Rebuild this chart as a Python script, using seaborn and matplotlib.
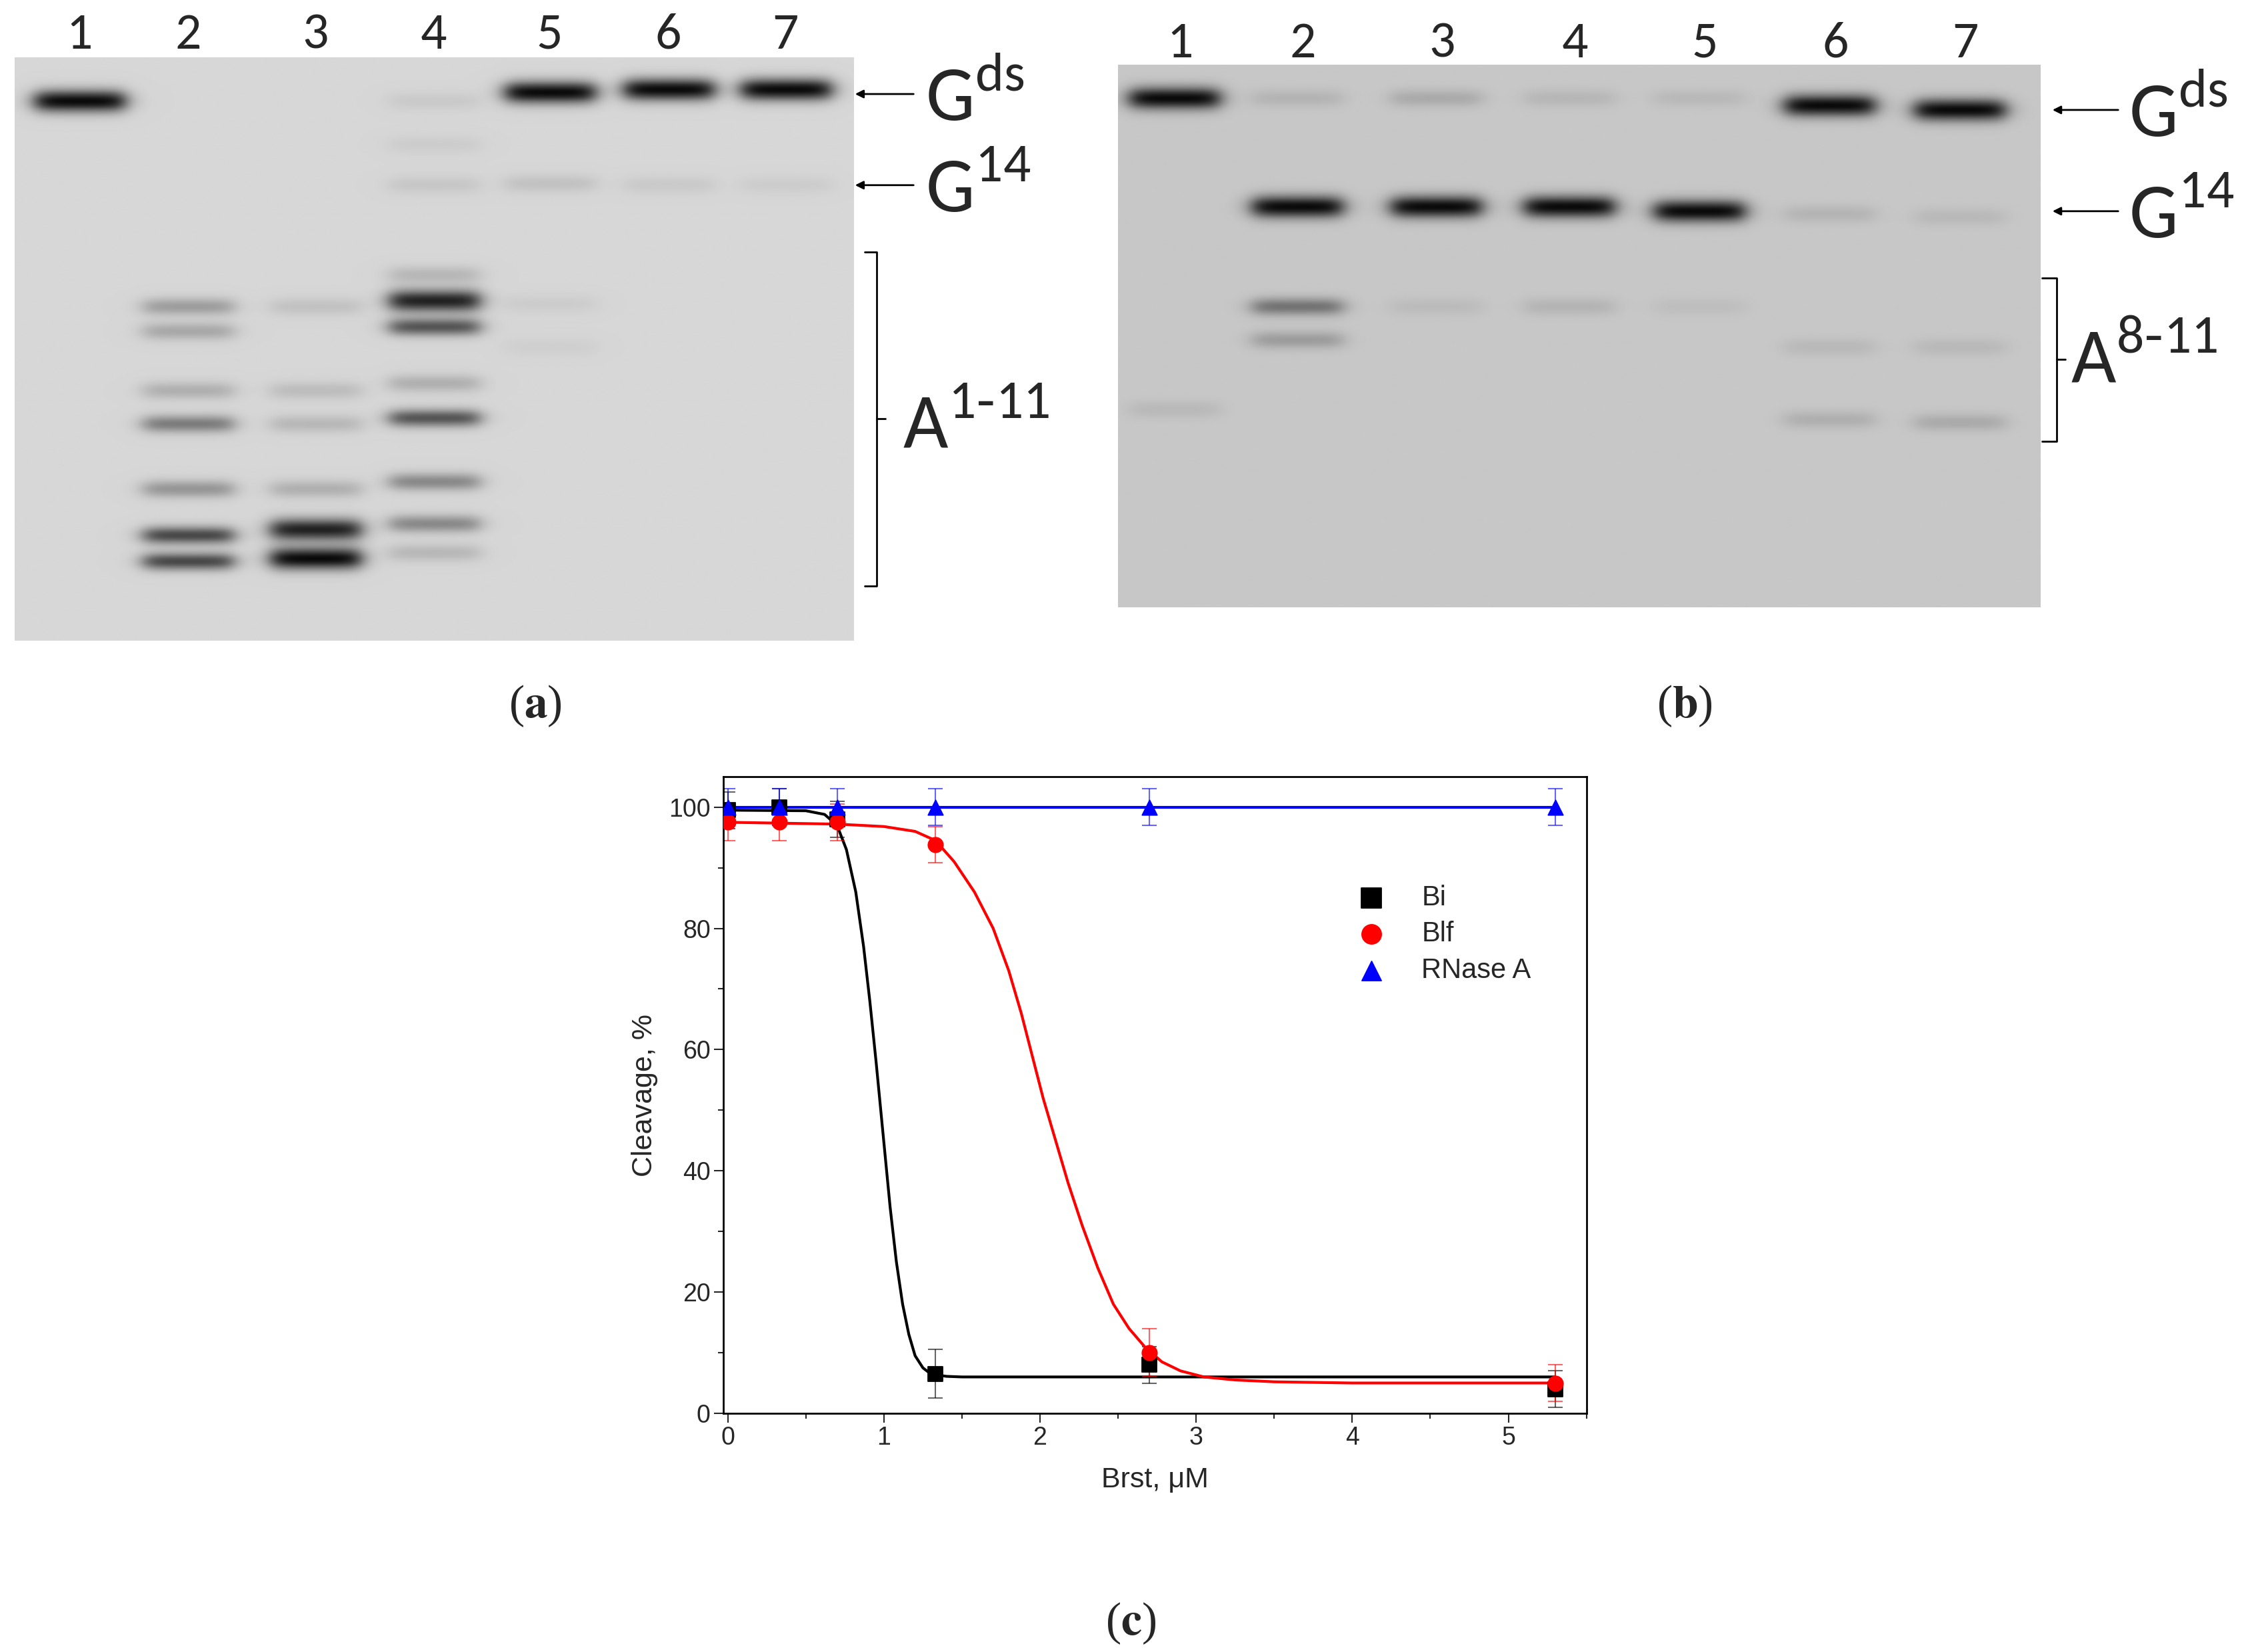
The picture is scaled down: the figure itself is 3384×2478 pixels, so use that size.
import numpy as np
import pandas as pd
import seaborn as sns
import matplotlib.pyplot as plt

sns.set_style('white')
plt.rcParams['font.family'] = ['Liberation Sans', 'DejaVu Sans']

# ---- chart data (panel c) ----
conc = [0, 0.33, 0.7, 1.33, 2.7, 5.3]
bi_vals = [99.5, 100, 98, 6.5, 8, 4]
bi_err = [3, 3, 3, 4, 3, 3]
blf_vals = [97.5, 97.5, 97.5, 93.8, 10, 5]
blf_err = [3, 3, 3, 3, 4, 3]
rnase_vals = [100, 100, 100, 100, 100, 100]
rnase_err = [3, 3, 3, 3, 3, 3]

# fitted curves
bi_fit_x = [0, 0.5, 0.62, 0.7, 0.76, 0.82, 0.87, 0.91, 0.95, 0.98, 1.01, 1.04, 1.08, 1.12,
            1.16, 1.2, 1.25, 1.3, 1.4, 1.5, 5.3]
bi_fit_y = [99.5, 99.4, 98.8, 97, 93, 86, 77, 68, 58, 50, 42, 34, 25, 18,
            13, 9.5, 7.5, 6.5, 6.1, 6, 6]
blf_fit_x = [0, 0.7, 1.0, 1.2, 1.33, 1.45, 1.58, 1.7, 1.8, 1.88, 1.95, 2.02, 2.1, 2.18, 2.27,
             2.37, 2.47, 2.57, 2.67, 2.78, 2.9, 3.05, 3.25, 3.5, 4, 5.3]
blf_fit_y = [97.5, 97.2, 96.8, 96, 94.5, 91, 86, 80, 73, 66, 59, 52, 45, 38, 31,
             24, 18, 14, 11, 8.5, 7, 6, 5.5, 5.2, 5, 5]

# ---- gel data: (lane, y position, darkness) ----
lanes_a = [55, 130, 218, 300, 380, 462, 543]
bands_a = [(1, 70, 0.85), (5, 64, 0.85), (6, 62, 0.85), (7, 62, 0.85),
           (5, 127, 0.08), (6, 128, 0.05), (7, 128, 0.04),
           (2, 212, 0.22), (2, 229, 0.18), (2, 270, 0.15), (2, 293, 0.35), (2, 338, 0.25),
           (2, 370, 0.55), (2, 388, 0.55),
           (3, 212, 0.08), (3, 270, 0.1), (3, 293, 0.12), (3, 338, 0.15), (3, 366, 0.7), (3, 386, 0.85),
           (4, 70, 0.05), (4, 100, 0.04), (4, 128, 0.06), (4, 190, 0.12), (4, 208, 0.7), (4, 226, 0.5),
           (4, 265, 0.15), (4, 289, 0.5), (4, 333, 0.3), (4, 362, 0.3), (4, 382, 0.12),
           (5, 210, 0.04), (5, 240, 0.03)]
lanes_b = [812, 897, 993, 1085, 1175, 1265, 1355]
bands_b = [(1, 68, 0.85), (2, 68, 0.08), (3, 68, 0.12), (4, 68, 0.07), (5, 68, 0.06),
           (6, 73, 0.85), (7, 76, 0.85),
           (2, 143, 0.85), (3, 143, 0.85), (4, 143, 0.85), (5, 146, 0.85),
           (6, 148, 0.08), (7, 150, 0.06),
           (2, 212, 0.35), (2, 235, 0.18), (3, 212, 0.05), (4, 212, 0.08), (5, 212, 0.04),
           (6, 240, 0.06), (6, 290, 0.1), (7, 240, 0.06), (7, 292, 0.12), (1, 283, 0.06)]


def gel_image(x0, x1, y0, y1, lanes, bands, bg):
    xs = np.arange(x0, x1, 0.5)
    ys = np.arange(y0, y1, 0.5)
    X, Y = np.meshgrid(xs, ys)
    img = np.full(X.shape, bg)
    for lane, yb, d in bands:
        cx = lanes[lane - 1]
        prof_x = 1 / (1 + np.exp((np.abs(X - cx) - 31) / 4))
        sy = 7.5 if d > 0.6 else 6
        prof_y = np.exp(-((Y - yb) / sy) ** 2)
        img -= min(1.2 * d, 0.95) * bg * prof_x * prof_y
    return np.clip(img, 0, 1)


fig = plt.figure(figsize=(33.84, 24.78), dpi=100)
W, H = 1560, 1142
ov = fig.add_axes([0, 0, 1, 1])
ov.set_xlim(0, W)
ov.set_ylim(H, 0)
ov.axis('off')

ga = gel_image(10, 590, 40, 443, lanes_a, bands_a, 0.84)
ov.imshow(ga, extent=(10, 590, 443, 40), cmap='gray', vmin=0, vmax=1, aspect='auto')
gb = gel_image(773, 1411, 45, 420, lanes_b, bands_b, 0.78)
ov.imshow(gb, extent=(773, 1411, 420, 45), cmap='gray', vmin=0, vmax=1, aspect='auto')

gel_font = ['Carlito', 'Lato', 'DejaVu Sans']
for i, x in enumerate(lanes_a):
    ov.text(x, 24, str(i + 1), ha='center', va='center', fontsize=56, family=gel_font)
for i, x in enumerate(lanes_b):
    ov.text(x + 4, 30, str(i + 1), ha='center', va='center', fontsize=56, family=gel_font)


def arrow(x0, x1, y):
    ov.annotate('', xy=(x0, y), xytext=(x1, y),
                arrowprops=dict(arrowstyle='-|>', color='black', lw=2, mutation_scale=18))


def bracket(x, y0, y1, w):
    ov.plot([x, x + w, x + w, x], [y0, y0, y1, y1], color='black', lw=2)
    ym = (y0 + y1) / 2
    ov.plot([x + w, x + w + 6], [ym, ym], color='black', lw=2)


lab = dict(fontsize=84, family=gel_font, va='center')
arrow(590, 633, 65)
ov.text(640, 68, r'G$^{\mathregular{ds}}$', **lab)
arrow(590, 633, 128)
ov.text(640, 131, r'G$^{\mathregular{14}}$', **lab)
bracket(598, 174, 405, 8)
ov.text(624, 295, r'A$^{\mathregular{1\text{-}11}}$', **lab)
arrow(1418, 1466, 76)
ov.text(1472, 79, r'G$^{\mathregular{ds}}$', **lab)
arrow(1418, 1466, 146)
ov.text(1472, 149, r'G$^{\mathregular{14}}$', **lab)
bracket(1412, 192, 305, 10)
ov.text(1432, 249, r'A$^{\mathregular{8\text{-}11}}$', **lab)

pl = dict(fontsize=50, family=['Liberation Serif'], ha='center', va='center')
for x, y, s in [(370, 488, 'a'), (1165, 488, 'b'), (782, 1122, 'c')]:
    ov.text(x, y, '(' + r'$\mathbf{' + s + '}$' + ')', math_fontfamily='stix', **pl)

# ---- panel c chart ----
ax = fig.add_axes([500 / W, 1 - 977 / H, 597 / W, 440 / H])
series = [('Bi', bi_vals, bi_err, 'black', 's', bi_fit_x, bi_fit_y),
          ('Blf', blf_vals, blf_err, 'red', 'o', blf_fit_x, blf_fit_y),
          ('RNase A', rnase_vals, rnase_err, 'blue', '^', conc, rnase_vals)]
for name, vals, err, col, mk, fx, fy in series:
    ax.errorbar(conc, vals, yerr=err, fmt='none', ecolor=col, alpha=0.6, elinewidth=1.5,
                capsize=8, capthick=1.5)
    sns.lineplot(x=fx, y=fy, color=col, lw=3, sort=False, ax=ax)
    sns.scatterplot(x=conc, y=vals, color=col, marker=mk, s=260, edgecolor=col,
                    label=name, ax=ax, zorder=5)

ax.set_xlim(-0.03, 5.5)
ax.set_ylim(0, 105)
ax.set_xticks([0, 1, 2, 3, 4, 5])
ax.set_xticks([0.5, 1.5, 2.5, 3.5, 4.5, 5.5], minor=True)
ax.set_yticks([0, 20, 40, 60, 80, 100])
ax.set_yticks([10, 30, 50, 70, 90], minor=True)
ax.tick_params(which='major', direction='out', length=10, width=1.5, labelsize=27,
               bottom=True, left=True)
ax.tick_params(which='minor', direction='out', length=6, width=1.5, bottom=True, left=True)
for s in ax.spines.values():
    s.set_linewidth(2)
    s.set_color('black')
ax.set_xlabel('Brst, \u03bcM', fontsize=31, labelpad=18)
ax.set_ylabel('Cleavage, %', fontsize=31, labelpad=12)
ax.legend(frameon=False, fontsize=30, loc='upper left', bbox_to_anchor=(0.69, 0.87),
          handletextpad=0.8, labelspacing=0.35, markerscale=1.3)

fig.savefig('out.png', dpi=100)
